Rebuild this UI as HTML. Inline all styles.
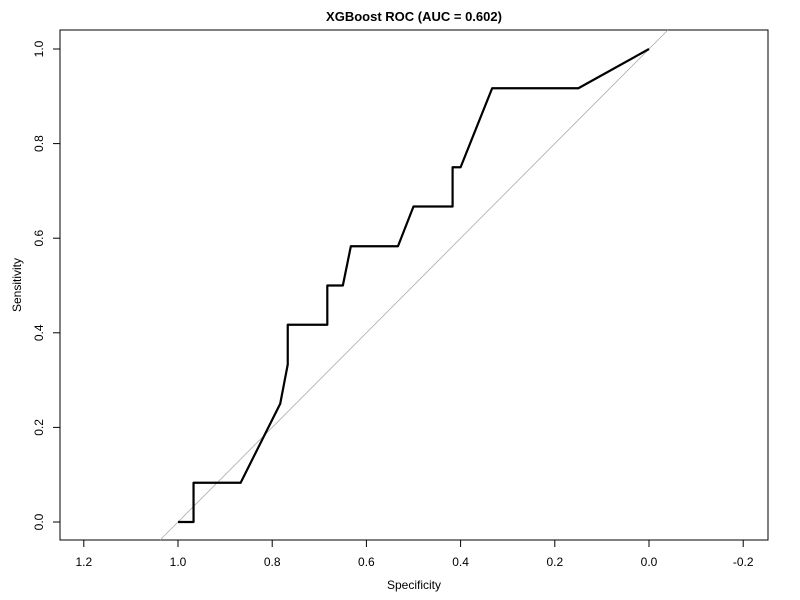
<!DOCTYPE html>
<html><head><meta charset="utf-8"><style>
html,body{margin:0;padding:0;width:800px;height:600px;overflow:hidden;background:#fff}
svg{display:block;overflow:hidden;font-family:"Liberation Sans",Arial,sans-serif}
</style></head><body>
<svg id="chart" width="800" height="600" viewBox="0 0 800 600" xmlns="http://www.w3.org/2000/svg">
<rect width="800" height="600" fill="#fff"/>
<text x="414" y="21" text-anchor="middle" font-size="13" font-weight="bold">XGBoost ROC (AUC = 0.602)</text>
<rect x="60" y="30" width="708" height="510" fill="none" stroke="#000" stroke-width="1"/>
<g id="xaxis"></g>
<g id="yaxis"></g>
<text x="414" y="589" text-anchor="middle" font-size="12">Specificity</text>
<text transform="translate(21,285) rotate(-90)" text-anchor="middle" font-size="12">Sensitivity</text>
<g id="marks"></g>
</svg>
<script>
const xTicks = [1.2, 1.0, 0.8, 0.6, 0.4, 0.2, 0.0, -0.2];
const xTickLabels = ["1.2","1.0","0.8","0.6","0.4","0.2","0.0","-0.2"];
const yTicks = [0.0, 0.2, 0.4, 0.6, 0.8, 1.0];
const yTickLabels = ["0.0","0.2","0.4","0.6","0.8","1.0"];
const specificity = [1.0,0.967,0.967,0.867,0.783,0.767,0.767,0.683,0.683,0.65,0.633,0.533,0.5,0.417,0.417,0.4,0.333,0.15,0.0];
const sensitivity = [0.0,0.0,0.083,0.083,0.25,0.333,0.417,0.417,0.5,0.5,0.583,0.583,0.667,0.667,0.75,0.75,0.917,0.917,1.0];

const NS = "http://www.w3.org/2000/svg";
const X = v => 649 - v * 471;
const Y = v => 522 - v * 473;
const Yinv = p => (522 - p) / 473;
function mk(tag, attrs, parent){const e=document.createElementNS(NS,tag);for(const k in attrs)e.setAttribute(k,attrs[k]);parent.appendChild(e);return e;}
const xa = document.getElementById('xaxis'), ya = document.getElementById('yaxis'), marks = document.getElementById('marks');
mk('line',{x1:X(xTicks[0]),x2:X(xTicks[xTicks.length-1]),y1:540,y2:540,stroke:'#000'},xa);
xTicks.forEach((t,i)=>{
  const l=mk('line',{x1:X(t),x2:X(t),y1:540,y2:547,stroke:'#000'},xa);
  
  
  const tx=mk('text',{x:X(t),y:566,'text-anchor':'middle','font-size':'12'},xa);
  tx.textContent=xTickLabels[i];
  
  
});
mk('line',{x1:60,x2:60,y1:Y(yTicks[0]),y2:Y(yTicks[yTicks.length-1]),stroke:'#000'},ya);
yTicks.forEach((t,i)=>{
  const l=mk('line',{x1:53,x2:60,y1:Y(t),y2:Y(t),stroke:'#000'},ya);
  
  
  const tx=mk('text',{transform:`translate(43,${Y(t)}) rotate(-90)`,'text-anchor':'middle','font-size':'12'},ya);
  tx.textContent=yTickLabels[i];
  
  
});
// diagonal sens = 1 - spec, clipped to plot box
const sBot = Yinv(540), sTop = Yinv(30);
const diag=mk('line',{x1:X(1-sBot),y1:540,x2:X(1-sTop),y2:30,stroke:'#aaa','stroke-width':'0.8'},marks);


const pts=specificity.map((s,i)=>X(s)+','+Y(sensitivity[i])).join(' ');
const roc=mk('polyline',{points:pts,fill:'none',stroke:'#000','stroke-width':'2.2','stroke-linejoin':'round'},marks);


</script>
</body></html>
